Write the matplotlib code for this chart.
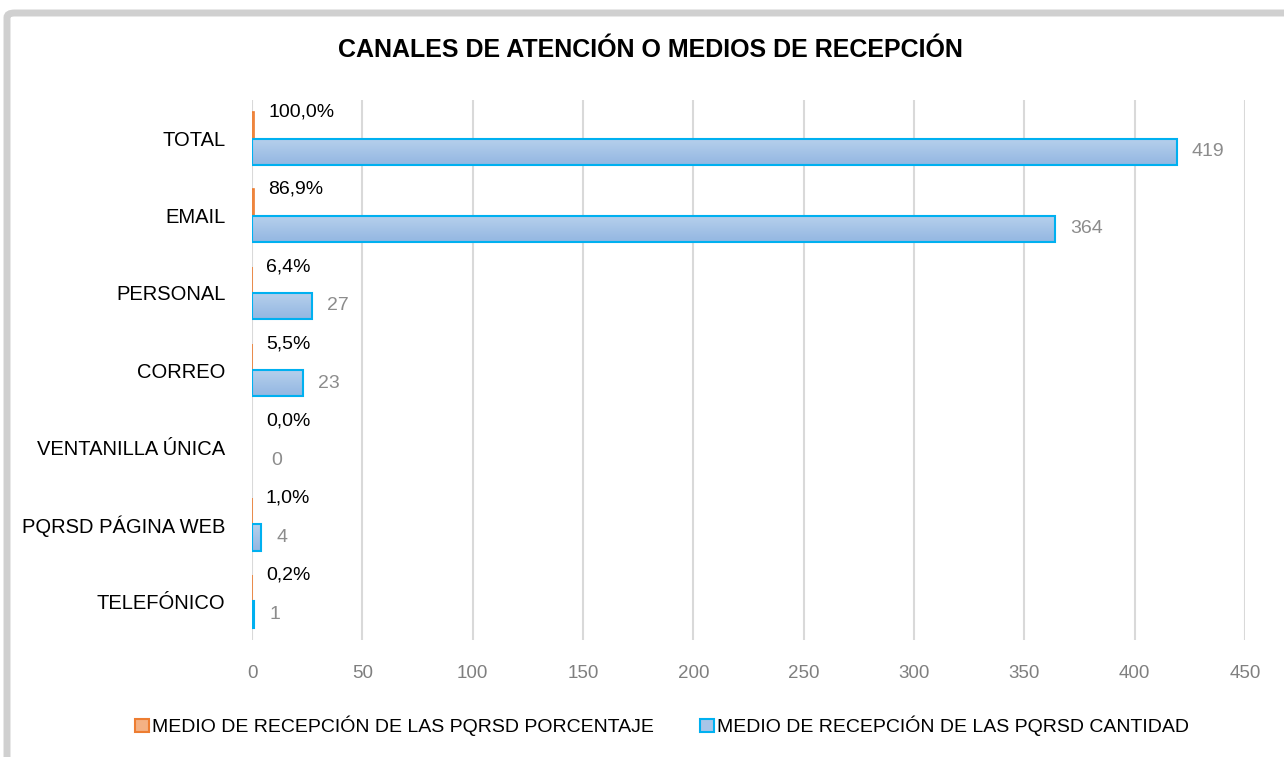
import numpy as np
import matplotlib.pyplot as plt
from matplotlib.patches import FancyBboxPatch
from matplotlib.colors import LinearSegmentedColormap

plt.rcParams['font.family'] = ['Liberation Sans', 'DejaVu Sans']

# Data
categories = ["TOTAL", "EMAIL", "PERSONAL", "CORREO", "VENTANILLA ÚNICA",
              "PQRSD PÁGINA WEB", "TELEFÓNICO"]
cantidad = [419, 364, 27, 23, 0, 4, 1]
porcentaje = [1.0, 0.869, 0.064, 0.055, 0.0, 0.010, 0.002]
pct_labels = ["100,0%", "86,9%", "6,4%", "5,5%", "0,0%", "1,0%", "0,2%"]
xticks = np.arange(0, 451, 50)

title = "CANALES DE ATENCIÓN O MEDIOS DE RECEPCIÓN"
leg_pct = "MEDIO DE RECEPCIÓN DE LAS PQRSD PORCENTAJE"
leg_cnt = "MEDIO DE RECEPCIÓN DE LAS PQRSD CANTIDAD"

fig = plt.figure(figsize=(12.84, 7.57), dpi=100)

# gray frame like the Excel chart border
frame = FancyBboxPatch((7 / 1284, -0.2), 1.2, 1.2 - 13 / 757,
                       boxstyle="round,pad=0,rounding_size=0.006",
                       transform=fig.transFigure, facecolor="none",
                       edgecolor="#D0D0D0", linewidth=5, zorder=-1)
fig.patches.append(frame)

ax = fig.add_axes([252 / 1284, 1 - 640 / 757, (1245 - 252) / 1284, 540 / 757])
ax.set_facecolor("none")

y = np.arange(len(categories))
h = 0.34

bars_pct = ax.barh(y - h / 2, porcentaje, height=h, color="#F4B183",
                   edgecolor="#ED7D31", linewidth=1.2, zorder=3)
bars_cnt = ax.barh(y + h / 2, cantidad, height=h, color="#A9C5E8",
                   edgecolor="#00B0F0", linewidth=1.5, zorder=3)

# empty bars are not drawn in the original
for b in list(bars_pct) + list(bars_cnt):
    if b.get_width() <= 0:
        b.set_visible(False)

# gradient fill for the blue bars
cmap = LinearSegmentedColormap.from_list("blu", ["#B7D0EC", "#93B7E2"])
grad = np.linspace(0, 1, 64).reshape(-1, 1)
for b in bars_cnt:
    if b.get_width() <= 0:
        continue
    x0, y0 = b.get_x(), b.get_y()
    im = ax.imshow(grad, cmap=cmap, aspect="auto",
                   extent=(x0, x0 + b.get_width(), y0 + b.get_height(), y0),
                   zorder=3.5, interpolation="bilinear")
    im.set_clip_path(b)
    b.set_facecolor("none")
    b.set_zorder(4)

# data labels
for i in range(len(categories)):
    ax.annotate(pct_labels[i], (porcentaje[i], y[i] - h), xytext=(10, 0),
                textcoords="offset points", va="center", ha="left",
                fontsize=14, color="black")
    off = 14 if cantidad[i] == 0 else 11
    ax.annotate(str(cantidad[i]), (cantidad[i], y[i] + h / 2), xytext=(off, 0),
                textcoords="offset points", va="center", ha="left",
                fontsize=14, color="#8C8C8C")

ax.set_xlim(0, 450)
ax.set_ylim(len(categories) - 0.5, -0.5)
ax.set_xticks(xticks)
ax.set_yticks(y)
ax.set_yticklabels(categories, fontsize=14.5)
ax.tick_params(axis="x", length=0, colors="#7F7F7F", labelsize=13.5, pad=18)
ax.tick_params(axis="y", length=0, pad=19)
ax.xaxis.grid(True, color="#D9D9D9", linewidth=1.5, zorder=0)
ax.set_axisbelow(True)
for s in ax.spines.values():
    s.set_visible(False)

fig.text(650 / 1284, 1 - 50 / 757, title, ha="center", va="center",
         fontsize=18, fontweight="bold")

# legend
handles = [plt.Rectangle((0, 0), 1, 1, facecolor="#F4B183", edgecolor="#ED7D31", linewidth=1.5),
           plt.Rectangle((0, 0), 1, 1, facecolor="#A9C5E8", edgecolor="#00B0F0", linewidth=1.5)]
fig.legend(handles, [leg_pct, leg_cnt], loc="center", ncol=2,
           bbox_to_anchor=(662 / 1284, 1 - 726 / 757), frameon=False,
           fontsize=14, handlelength=0.7, handleheight=0.7, handletextpad=0.15,
           columnspacing=2.4)

fig.savefig("out.png", dpi=100)
